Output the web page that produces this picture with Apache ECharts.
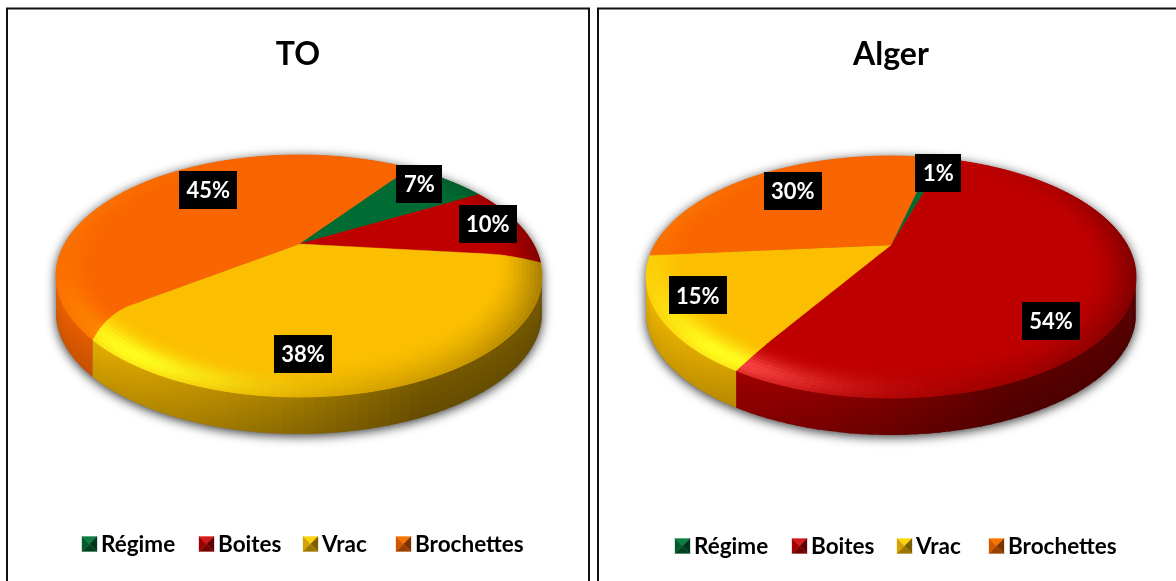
<!DOCTYPE html>
<html>
<head>
<meta charset="utf-8">
<style>html,body{margin:0;padding:0;background:#fff}#c{width:1176px;height:581px}</style>
<script src="https://cdn.jsdelivr.net/npm/echarts@6/dist/echarts.min.js"></script>
</head>
<body>
<div id="c"></div>
<script>
// ---- data ----
const categories = ['Régime', 'Boites', 'Vrac', 'Brochettes'];
const valuesTO = [7, 10, 38, 45];
const valuesAlger = [1, 54, 15, 30];
const titles = ['TO', 'Alger'];

// ---- style / layout ----
const baseColors = ['#006b32', '#bf0000', '#fbbe00', '#f96500'];
const hiColors = ['#20a060', '#ff4a4a', '#ffff20', '#ff9000'];
const FONT = 'Lato, "Open Sans", sans-serif';
const panels = [
  { cx: 299, apexY: 244, rx: 243, start: -55,
    labelPos: [[-3.6, .86], [-.7, .866], [14.4, .777], [7, .704]],
    legendY: 544, legendX: [82, 199, 303, 396] },
  { cx: 891, apexY: 245, rx: 245, start: -77,
    labelPos: [[2.6, .807], [21, .81], [3.6, .834], [0, .725]],
    legendY: 546, legendX: [675, 792, 897, 989] }
];
const PERSP = -0.2645, DEPTH = 112.5, WALL = 37, BEVEL = 0.17, BANDS = 11, STEP = 2;

function hex(c) { return [1, 3, 5].map(i => parseInt(c.substr(i, 2), 16)); }
function mix(a, b, t) { t = Math.max(0, Math.min(1, t)); return a.map((v, i) => v + (b[i] - v) * t); }
function css(c) { return 'rgb(' + c.map(v => Math.round(v)).join(',') + ')'; }
function rad(d) { return d * Math.PI / 180; }

function rimWarp(t, r) { // slice edges bend slightly where they cross the bevel
  if (r <= 0.8) return 0;
  const f = Math.pow((r - 0.8) / 0.2, 1.5);
  return f * (-7 * Math.exp(-Math.pow((t - 143) / 14, 2)) + 3 * Math.exp(-Math.pow((t - 6) / 12, 2)));
}
function makeProject(p) {
  const d = p.rx * Math.sqrt(1 - PERSP * PERSP);
  return function (theta, r) {
    const a = theta + rimWarp(theta, r);
    const x = r * Math.cos(rad(a)), y = r * Math.sin(rad(a));
    const w = 1 + PERSP * y;
    return [p.cx + d * x / w, p.apexY + DEPTH * y / w];
  };
}
function topShade(base, hi, theta, u) {
  let t = ((theta % 360) + 360) % 360; if (t > 300) t -= 360;
  const s = Math.pow(1 - u, 1.4);
  const prof = Math.exp(-Math.pow((u - 0.25) / 0.38, 2));
  const h = 1.0 * Math.exp(-Math.pow((t - 128) / 28, 2)) * prof;
  const back = 0.32 * Math.exp(-Math.pow((t - 195) / 35, 2)) * s;
  const dark = 0.62 * Math.exp(-Math.pow((t - 15) / 50, 2)) + 0.15 * Math.exp(-Math.pow((t - 80) / 25, 2));
  let c = mix(base, hi, h + back);
  return mix(c, base.map(v => v * 0.45), dark * s);
}
function wallShade(base, xNorm) {
  const f = xNorm < 0.75 ? 0.86 - (0.86 - 0.42) * (xNorm / 0.75) : 0.42;
  return base.map(c => c * f);
}
function makeRender(panelIdx, values) {
  const p = panels[panelIdx], project = makeProject(p);
  const total = values.reduce((a, b) => a + b, 0);
  const lo = Math.asin(-PERSP) * 180 / Math.PI, hi = 180 - lo;
  const angles = [p.start];
  values.forEach(v => angles.push(angles[angles.length - 1] + v / total * 360));

  return function (params, api) {
    const i = params.dataIndex, kids = [];
    const a0 = angles[i], a1 = angles[i + 1];
    const base = hex(baseColors[i]), hiC = hex(hiColors[i]);

    if (i === 0) { // soft cast shadow of the whole disc
      const sil = [];
      for (let t = lo; t <= hi; t += 3) { const q = project(t, 1); sil.push([q[0], q[1] + WALL]); }
      for (let t = hi; t <= lo + 360; t += 3) sil.push(project(t, 1));
      kids.push({ type: 'polygon', z2: 0, shape: { points: sil },
        style: { fill: '#777', shadowBlur: 11, shadowColor: 'rgba(0,0,0,.8)', shadowOffsetY: 2 } });
    }
    // side wall
    const wa = Math.max(a0, lo), wb = Math.min(a1, hi);
    if (wb > wa) {
      const n = Math.max(1, Math.ceil((wb - wa) / STEP));
      for (let s = 0; s < n; s++) {
        const t0 = wa + (wb - wa) * s / n, t1 = wa + (wb - wa) * (s + 1) / n;
        const q0 = project(t0, 1), q1 = project(Math.min(t1 + 0.5, wb), 1);
        const xn = ((q0[0] + q1[0]) / 2 - (p.cx - p.rx)) / (2 * p.rx);
        const col = wallShade(base, xn);
        kids.push({ type: 'polygon', z2: 1,
          shape: { points: [q0, q1, [q1[0], q1[1] + WALL], [q0[0], q0[1] + WALL]] },
          style: { fill: new echarts.graphic.LinearGradient(0, 0, 0, 1, [
            { offset: 0, color: css(col.map(c => Math.min(255, c * 1.12))) },
            { offset: 1, color: css(col.map(c => c * 0.95)) }]) } });
      }
    }
    // flat top of the slice
    const pts = [];
    for (let k = 0; k <= 20; k++) pts.push(project(a0, k / 20));
    const n = Math.max(2, Math.ceil((a1 - a0) / 1.5));
    for (let s = 1; s < n; s++) pts.push(project(a0 + (a1 - a0) * s / n, 1));
    for (let k = 20; k >= 1; k--) pts.push(project(a1, k / 20));
    kids.push({ type: 'polygon', z2: 2, shape: { points: pts },
      style: { fill: baseColors[i], stroke: baseColors[i], lineWidth: 0.4 } });
    // bevel near the rim
    const m = Math.max(1, Math.ceil((a1 - a0) / STEP));
    for (let b = 0; b < BANDS; b++) {
      const r0 = 1 - BEVEL * b / BANDS, r1 = 1 - BEVEL * (b + 1) / BANDS;
      for (let s = 0; s < m; s++) {
        const t0 = a0 + (a1 - a0) * s / m, t1 = a0 + (a1 - a0) * (s + 1) / m;
        const col = css(topShade(base, hiC, (t0 + t1) / 2, (b + .5) / BANDS));
        kids.push({ type: 'polygon', z2: 3,
          shape: { points: [project(t0, r0), project(t1, r0), project(t1, r1), project(t0, r1)] },
          style: { fill: col, stroke: col, lineWidth: 0.6 } });
      }
    }
    // value label
    const lp = p.labelPos[i];
    const c = project((a0 + a1) / 2 + lp[0], lp[1]);
    const txt = Math.round(values[i]) + '%';
    const bw = txt.length > 2 ? 58 : 46;
    kids.push({ type: 'rect', z2: 6, shape: { x: Math.round(c[0]) - bw / 2, y: Math.round(c[1]) - 19, width: bw, height: 38 },
      style: { fill: '#000' } });
    kids.push({ type: 'text', z2: 7, x: c[0], y: c[1] + 1,
      style: { text: txt, fill: '#fff', font: 'bold 22px ' + FONT, align: 'center', verticalAlign: 'middle' } });
    // legend entry
    const lx = p.legendX[i], ly = p.legendY, S = 15, hs = S / 2, top = ly - hs, mx = lx + hs;
    const tri = (ptsT, f) => ({ type: 'polygon', z2: 8, shape: { points: ptsT }, style: { fill: css(f), stroke: css(f), lineWidth: .3 } });
    const tl = [lx, top], tr = [lx + S, top], bl = [lx, top + S], br = [lx + S, top + S], ctr = [mx, ly];
    kids.push(tri([tl, tr, ctr], mix(base, hiC, .35)));
    kids.push(tri([tl, bl, ctr], base.map(v => v * .85)));
    kids.push(tri([tr, br, ctr], base.map(v => v * .5)));
    kids.push(tri([bl, br, ctr], base.map(v => v * .62)));
    kids.push({ type: 'text', z2: 8, x: lx + S + 4, y: ly + 1,
      style: { text: categories[i], fill: '#000', font: 'bold 22.5px ' + FONT, align: 'left', verticalAlign: 'middle' } });
    return { type: 'group', children: kids };
  };
}

const chart = echarts.init(document.getElementById('c'), null, { renderer: 'canvas' });
chart.setOption({
  backgroundColor: '#fff',
  animation: false,
  title: [
    { text: titles[0], left: 298, top: 55, padding: 0, textAlign: 'center', textVerticalAlign: 'middle',
      textStyle: { fontFamily: FONT, fontWeight: 'bold', fontSize: 32, color: '#000' } },
    { text: titles[1], left: 891, top: 55, padding: 0, textAlign: 'center', textVerticalAlign: 'middle',
      textStyle: { fontFamily: FONT, fontWeight: 'bold', fontSize: 32, color: '#000' } }
  ],
  graphic: [
    { type: 'polyline', shape: { points: [[7, 581], [7, 8.5], [589, 8.5], [589, 581]] }, style: { fill: null, stroke: '#111', lineWidth: 2 } },
    { type: 'polyline', shape: { points: [[598, 581], [598, 8.5], [1176, 8.5]] }, style: { fill: null, stroke: '#111', lineWidth: 2 } }
  ],
  series: [
    { type: 'custom', name: titles[0], coordinateSystem: 'none', silent: true, renderItem: makeRender(0, valuesTO),
      data: valuesTO.map((v, i) => ({ name: categories[i], value: v })) },
    { type: 'custom', name: titles[1], coordinateSystem: 'none', silent: true, renderItem: makeRender(1, valuesAlger),
      data: valuesAlger.map((v, i) => ({ name: categories[i], value: v })) }
  ]
});
</script>
</body>
</html>
